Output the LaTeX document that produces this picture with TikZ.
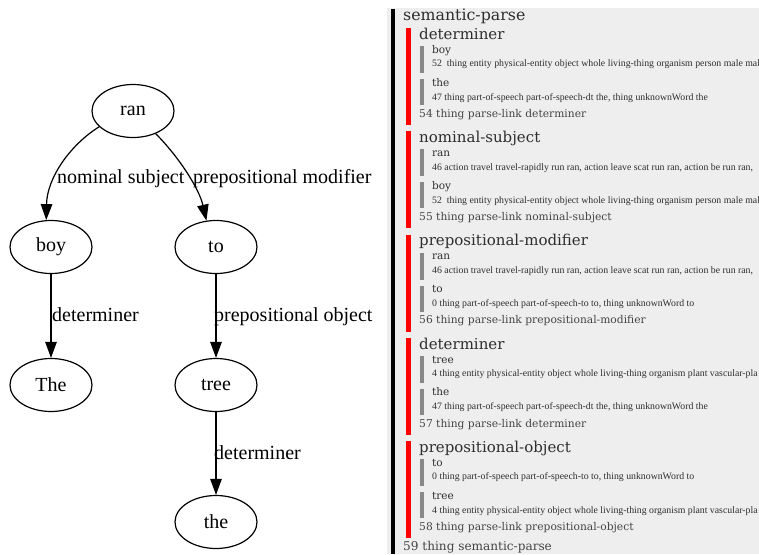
\documentclass[tikz,border=0pt]{standalone}
\usepackage{fontspec}
\setmainfont{Liberation Serif}
\newfontfamily\panelfont{DejaVu Serif}
\newfontfamily\detailfont{Liberation Serif}
\usetikzlibrary{arrows.meta,shapes.geometric}

\definecolor{panelbg}{HTML}{EEEEEE}
\definecolor{linkred}{HTML}{FF0000}
\definecolor{wordbar}{HTML}{888888}
\definecolor{paneltext}{HTML}{2E2E2E}
\definecolor{foottext}{HTML}{444444}

\tikzset{
  word/.style={draw, ellipse, line width=1.2pt, minimum width=82pt,
    minimum height=53pt, inner sep=0pt, font=\fontsize{20}{24}\selectfont},
  edge/.style={draw, line width=1.2pt, -{Triangle[length=16pt,width=11.5pt]}},
  elabel/.style={anchor=base west, inner sep=0pt, font=\fontsize{20}{24}\selectfont},
  roottitle/.style={anchor=base west, inner sep=0pt,
    font=\panelfont\fontsize{15.8}{18}\selectfont, text=paneltext},
  heading/.style={anchor=base west, inner sep=0pt,
    font=\panelfont\fontsize{15}{18}\selectfont, text=paneltext},
  wordtxt/.style={anchor=base west, inner sep=0pt,
    font=\panelfont\fontsize{10.5}{12}\selectfont, text=paneltext},
  detail/.style={anchor=base west, inner sep=0pt,
    font=\detailfont\fontsize{9.8}{11}\selectfont, text=paneltext},
  footer/.style={anchor=base west, inner sep=0pt,
    font=\panelfont\fontsize{10.7}{12}\selectfont, text=foottext},
  rootfooter/.style={anchor=base west, inner sep=0pt,
    font=\panelfont\fontsize{12.1}{14}\selectfont, text=foottext},
}

% One parse link: red bar, title, two word entries with grey bars, footer line.
% #1 prefix, #2 vertical offset, #3 title, #4/#5 first word and its senses,
% #6/#7 second word and its senses, #8 footer
\newcommand\linkblock[8]{%
  \begin{scope}[shift={(0,#2)}]
    \fill[linkred] (406,28) rectangle (410.5,125);
    \fill[wordbar] (420,46) rectangle (424,73);
    \fill[wordbar] (420,79) rectangle (424,105);
    \node[heading] (#1-title) at (419,39.3) {#3};
    \node[wordtxt] (#1-w1) at (432,53.3) {#4};
    \node[detail]  (#1-d1) at (432,66.7) {#5};
    \node[wordtxt] (#1-w2) at (432,86) {#6};
    \node[detail]  (#1-d2) at (432,100) {#7};
    \node[footer]  (#1-foot) at (419,117.3) {#8};
  \end{scope}}

\begin{document}
\begin{tikzpicture}[x=1pt,y=-1pt]
  \useasboundingbox (0,0) rectangle (759,554);
  \fill[white] (0,0) rectangle (759,554);

  % dependency tree
  \node[word] (ran)  at (133,111) {ran};
  \node[word] (boy)  at (51,247)  {boy};
  \node[word] (to)   at (216,247) {to};
  \node[word] (The)  at (51,385)  {The};
  \node[word] (tree) at (216,385) {tree};
  \node[word] (the)  at (216,522) {the};

  \draw[edge] (ran.205) .. controls (70,145) and (47,178) .. (boy.100);
  \draw[edge] (ran.-45) .. controls (178,156) and (199,188) .. (to.110);
  \draw[edge] (boy) -- (The);
  \draw[edge] (to) -- (tree);
  \draw[edge] (tree) -- (the);

  \node[elabel] (l-nsubj) at (57,183)   {nominal subject};
  \node[elabel] (l-prep)  at (193,183)  {prepositional modifier};
  \node[elabel] (l-det1)  at (52,321.7) {determiner};
  \node[elabel] (l-pobj)  at (214,321.7){prepositional object};
  \node[elabel] (l-det2)  at (214,459)  {determiner};

  % semantic parse listing
  \begin{scope}
    \clip (387,0) rectangle (759,554);
    \fill[panelbg] (387,8) rectangle (759,554);
    \fill[black] (391,9) rectangle (394.5,554);
    \node[roottitle] (root-title) at (403,20.7) {semantic-parse};

    \linkblock{det-a}{0}{determiner}
      {boy}{52\ \ thing entity physical-entity object whole living-thing organism person male mal}
      {the}{47 thing part-of-speech part-of-speech-dt the, thing unknownWord the}
      {54 thing parse-link determiner}
    \linkblock{nsubj}{103.3}{nominal-subject}
      {ran}{46 action travel travel-rapidly run ran, action leave scat run ran, action be run ran,}
      {boy}{52\ \ thing entity physical-entity object whole living-thing organism person male mal}
      {55 thing parse-link nominal-subject}
    \linkblock{prep}{206.6}{prepositional-modifier}
      {ran}{46 action travel travel-rapidly run ran, action leave scat run ran, action be run ran,}
      {to}{0 thing part-of-speech part-of-speech-to to, thing unknownWord to}
      {56 thing parse-link prepositional-modifier}
    \linkblock{det-b}{309.9}{determiner}
      {tree}{4 thing entity physical-entity object whole living-thing organism plant vascular-pla}
      {the}{47 thing part-of-speech part-of-speech-dt the, thing unknownWord the}
      {57 thing parse-link determiner}
    \linkblock{pobj}{413.2}{prepositional-object}
      {to}{0 thing part-of-speech part-of-speech-to to, thing unknownWord to}
      {tree}{4 thing entity physical-entity object whole living-thing organism plant vascular-pla}
      {58 thing parse-link prepositional-object}

    \node[rootfooter] (root-foot) at (403,550) {59 thing semantic-parse};
  \end{scope}
\end{tikzpicture}
\end{document}
